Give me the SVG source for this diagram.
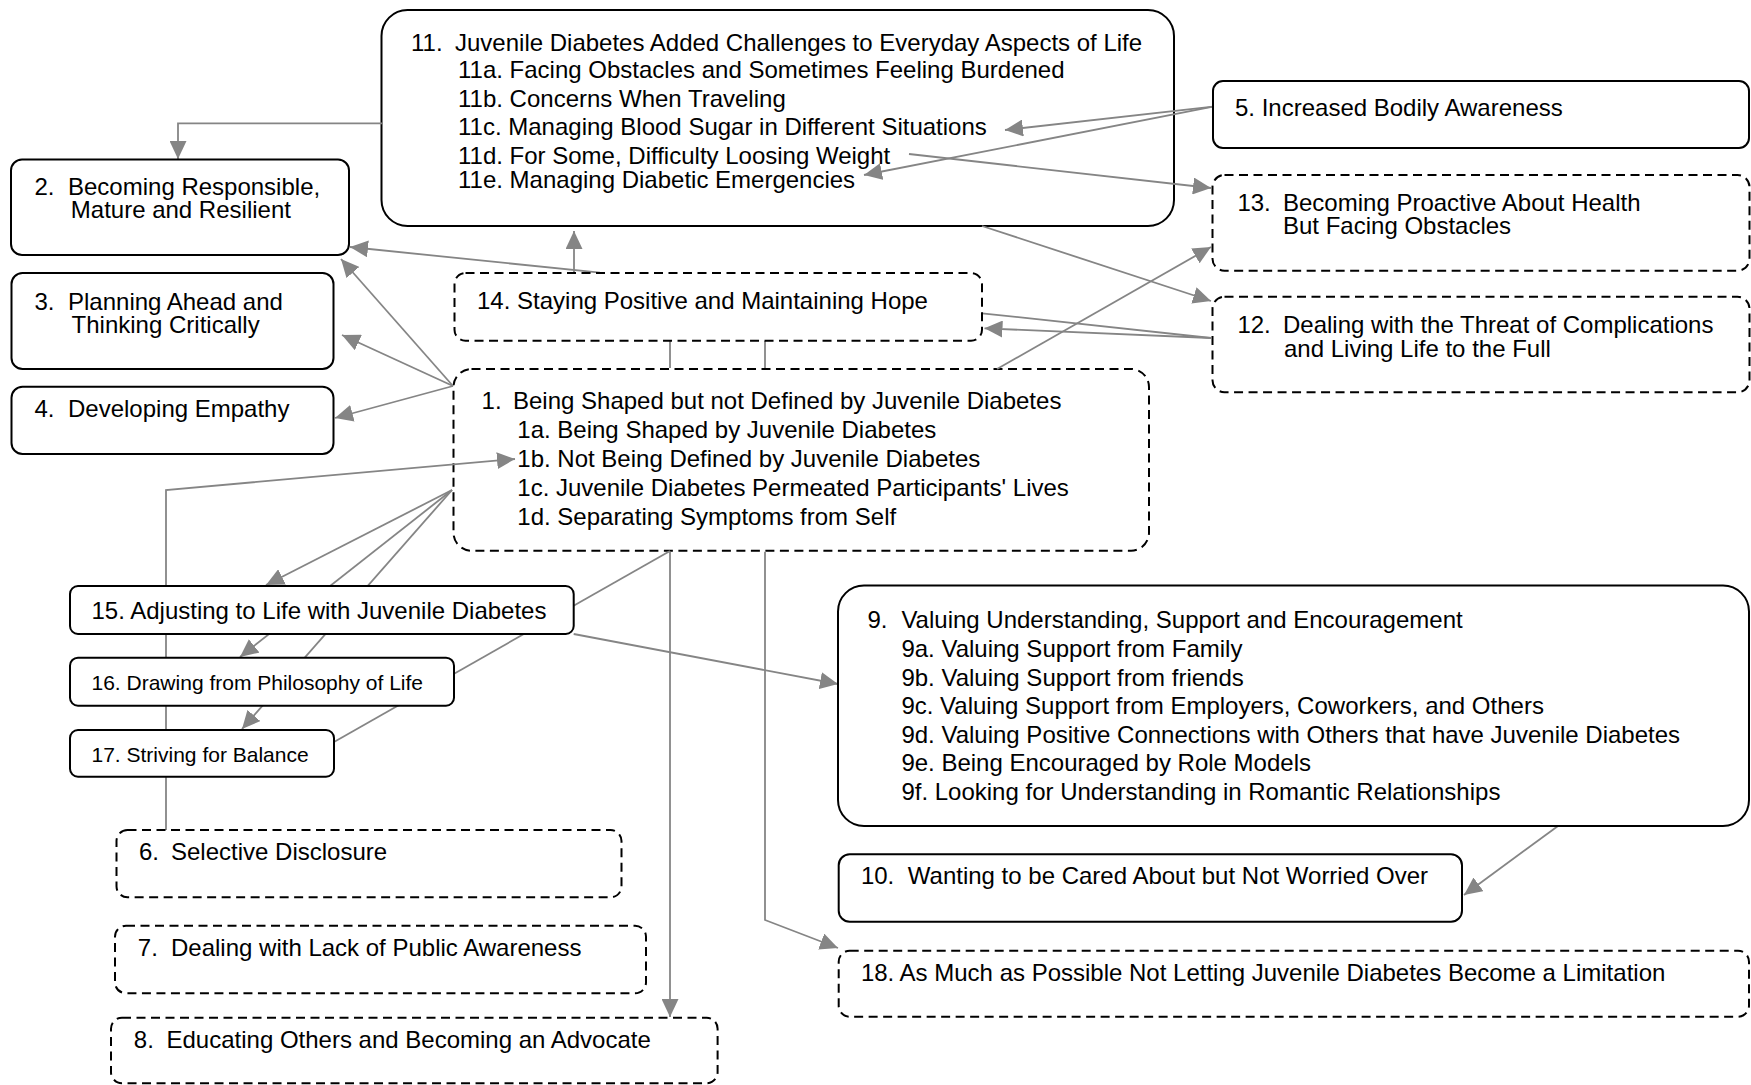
<svg xmlns="http://www.w3.org/2000/svg" width="1751" height="1085" viewBox="0 0 1751 1085">
<style>
.box{fill:#fff;stroke:#000;stroke-width:2}
.dash{stroke-dasharray:9 5.5}
.t{font-family:"Liberation Sans",Arial,Helvetica,sans-serif;font-size:24px;fill:#000}
.s{font-size:21px}
.c{stroke:#858585;stroke-width:1.8;fill:none}
</style>
<defs>
<marker id="arr" markerWidth="18" markerHeight="17" refX="18" refY="8.5" orient="auto" markerUnits="userSpaceOnUse">
<path d="M0,0 L18,8.5 L0,17 z" fill="#858585"/>
</marker>
</defs>
<rect width="1751" height="1085" fill="#fff"/>
<g id="node11">
<rect class="box" x="381.5" y="10" width="792.5" height="216" rx="26"/>
<text class="t" x="411" y="50.5">11. <tspan x="455">Juvenile Diabetes Added Challenges to Everyday Aspects of Life</tspan></text>
<text class="t" x="458" y="78">11a. Facing Obstacles and Sometimes Feeling Burdened</text>
<text class="t" x="458" y="106.5">11b. Concerns When Traveling</text>
<text class="t" x="458" y="135">11c. Managing Blood Sugar in Different Situations</text>
<text class="t" x="458" y="164">11d. For Some, Difficulty Loosing Weight</text>
<text class="t" x="458" y="188">11e. Managing Diabetic Emergencies</text>
</g>
<g id="node1">
<rect class="box dash" x="453.5" y="369" width="695.5" height="181.7" rx="18"/>
<text class="t" x="481.6" y="409">1. <tspan x="513">Being Shaped but not Defined by Juvenile Diabetes</tspan></text>
<text class="t" x="517.3" y="438">1a. Being Shaped by Juvenile Diabetes</text>
<text class="t" x="517.3" y="467">1b. Not Being Defined by Juvenile Diabetes</text>
<text class="t" x="517.3" y="496">1c. Juvenile Diabetes Permeated Participants' Lives</text>
<text class="t" x="517.3" y="525">1d. Separating Symptoms from Self</text>
</g>
<g id="connectors">
<polyline class="c" points="382,123.3 178,123.3 178,159" marker-end="url(#arr)"/>
<line class="c" x1="574" y1="272.7" x2="574" y2="231" marker-end="url(#arr)"/>
<line class="c" x1="600" y1="272.7" x2="350" y2="247" marker-end="url(#arr)"/>
<line class="c" x1="453" y1="386" x2="341" y2="259" marker-end="url(#arr)"/>
<line class="c" x1="453" y1="386" x2="342" y2="335" marker-end="url(#arr)"/>
<line class="c" x1="453" y1="386" x2="335" y2="418" marker-end="url(#arr)"/>
<polyline class="c" points="166,830 166,490 515,459" marker-end="url(#arr)"/>
<line class="c" x1="452" y1="490" x2="266" y2="585" marker-end="url(#arr)"/>
<line class="c" x1="452" y1="490" x2="240" y2="657" marker-end="url(#arr)"/>
<line class="c" x1="452" y1="490" x2="242" y2="729" marker-end="url(#arr)"/>
<line class="c" x1="334" y1="742" x2="670" y2="551"/>
<line class="c" x1="670" y1="340.7" x2="670" y2="368"/>
<line class="c" x1="670" y1="551.7" x2="670" y2="1017" marker-end="url(#arr)"/>
<line class="c" x1="765" y1="340.7" x2="765" y2="368"/>
<polyline class="c" points="765,551.7 765,920 838,948" marker-end="url(#arr)"/>
<line class="c" x1="573.7" y1="634" x2="838" y2="684" marker-end="url(#arr)"/>
<line class="c" x1="1558" y1="826" x2="1464" y2="895" marker-end="url(#arr)"/>
<line class="c" x1="1213" y1="106.7" x2="1005" y2="130" marker-end="url(#arr)"/>
<line class="c" x1="1213" y1="106.7" x2="864" y2="175" marker-end="url(#arr)"/>
<line class="c" x1="909" y1="154" x2="1211" y2="188" marker-end="url(#arr)"/>
<line class="c" x1="982" y1="226" x2="1211" y2="301" marker-end="url(#arr)"/>
<line class="c" x1="997" y1="369" x2="1211" y2="247" marker-end="url(#arr)"/>
<line class="c" x1="1211" y1="338" x2="984.5" y2="328.3" marker-end="url(#arr)"/>
<line class="c" x1="982" y1="313.3" x2="1211" y2="338"/>
</g>
<g id="node2">
<rect class="box" x="11" y="159.5" width="338" height="95.5" rx="11"/>
<text class="t" x="34.4" y="194.5">2. <tspan x="68">Becoming Responsible,</tspan></text>
<text class="t" x="70.8" y="218">Mature and Resilient</text>
</g>
<g id="node3">
<rect class="box" x="11.5" y="273" width="322" height="96" rx="11"/>
<text class="t" x="34.4" y="309.5">3. <tspan x="68">Planning Ahead and</tspan></text>
<text class="t" x="71.6" y="333">Thinking Critically</text>
</g>
<g id="node4">
<rect class="box" x="11.5" y="386.7" width="322" height="67.3" rx="11"/>
<text class="t" x="34.4" y="416.7">4. <tspan x="68">Developing Empathy</tspan></text>
</g>
<g id="node14">
<rect class="box dash" x="454.5" y="273" width="527.5" height="67.7" rx="11"/>
<text class="t" x="477" y="309">14. Staying Positive and Maintaining Hope</text>
</g>
<g id="node5">
<rect class="box" x="1213" y="81" width="536" height="67" rx="10"/>
<text class="t" x="1235" y="116">5. Increased Bodily Awareness</text>
</g>
<g id="node13">
<rect class="box dash" x="1212.5" y="175" width="537" height="95.7" rx="12"/>
<text class="t" x="1237.4" y="211">13. <tspan x="1283">Becoming Proactive About Health</tspan></text>
<text class="t" x="1283" y="233.5">But Facing Obstacles</text>
</g>
<g id="node12">
<rect class="box dash" x="1212.5" y="296.7" width="537" height="95.6" rx="12"/>
<text class="t" x="1237.4" y="333">12. <tspan x="1283">Dealing with the Threat of Complications</tspan></text>
<text class="t" x="1284" y="356.5">and Living Life to the Full</text>
</g>
<g id="node15">
<rect class="box" x="70" y="586" width="503.7" height="48" rx="8"/>
<text class="t" x="91.5" y="619">15. Adjusting to Life with Juvenile Diabetes</text>
</g>
<g id="node16">
<rect class="box" x="70" y="657.7" width="384" height="48" rx="8"/>
<text class="t s" x="91.5" y="689.5">16. Drawing from Philosophy of Life</text>
</g>
<g id="node17">
<rect class="box" x="70" y="730" width="264" height="46.7" rx="8"/>
<text class="t s" x="91.5" y="762">17. Striving for Balance</text>
</g>
<g id="node6">
<rect class="box dash" x="116.5" y="830" width="505" height="67.3" rx="11"/>
<text class="t" x="139" y="860">6. <tspan x="171">Selective Disclosure</tspan></text>
</g>
<g id="node7">
<rect class="box dash" x="115" y="925.7" width="531" height="67.6" rx="11"/>
<text class="t" x="137.8" y="956">7. <tspan x="171">Dealing with Lack of Public Awareness</tspan></text>
</g>
<g id="node8">
<rect class="box dash" x="111" y="1017.7" width="606.6" height="65.5" rx="11"/>
<text class="t" x="133.8" y="1047.5">8. <tspan x="166.5">Educating Others and Becoming an Advocate</tspan></text>
</g>
<g id="node9">
<rect class="box" x="838" y="585.5" width="911" height="240.5" rx="26"/>
<text class="t" x="867.5" y="628">9. <tspan x="901.4">Valuing Understanding, Support and Encouragement</tspan></text>
<text class="t" x="901.4" y="657">9a. Valuing Support from Family</text>
<text class="t" x="901.4" y="685.5">9b. Valuing Support from friends</text>
<text class="t" x="901.4" y="714">9c. Valuing Support from Employers, Coworkers, and Others</text>
<text class="t" x="901.4" y="742.5">9d. Valuing Positive Connections with Others that have Juvenile Diabetes</text>
<text class="t" x="901.4" y="771">9e. Being Encouraged by Role Models</text>
<text class="t" x="901.4" y="799.5">9f. Looking for Understanding in Romantic Relationships</text>
</g>
<g id="node10">
<rect class="box" x="838.7" y="854.3" width="623.3" height="67.4" rx="11"/>
<text class="t" x="860.9" y="883.5">10. <tspan x="907.8">Wanting to be Cared About but Not Worried Over</tspan></text>
</g>
<g id="node18">
<rect class="box dash" x="838.7" y="950.7" width="910.3" height="66" rx="11"/>
<text class="t" x="860.9" y="980.6">18. As Much as Possible Not Letting Juvenile Diabetes Become a Limitation</text>
</g>
</svg>
